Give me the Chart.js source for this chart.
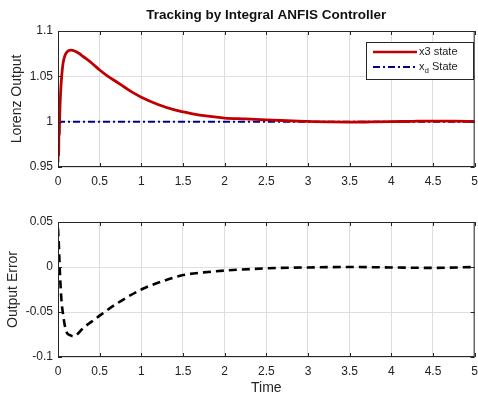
<!DOCTYPE html>
<html><head><meta charset="utf-8">
<script src="https://cdn.jsdelivr.net/npm/chart.js@4.4.1/dist/chart.umd.min.js"></script>
<style>
html,body{margin:0;padding:0;background:#fff;}
#w1{position:absolute;left:0;top:0;width:478px;height:200px;}
#w2{position:absolute;left:0;top:200px;width:478px;height:196px;}
</style></head><body>
<div id="w1"><canvas id="c1" width="478" height="200"></canvas></div>
<div id="w2"><canvas id="c2" width="478" height="196"></canvas></div>
<script>
// ---- data ----
const tState = [0, 0.004, 0.008, 0.012, 0.016, 0.02, 0.03, 0.044, 0.06, 0.08, 0.1, 0.13, 0.16, 0.2, 0.25, 0.3, 0.4, 0.5, 0.6, 0.7, 0.8, 0.9, 1.0, 1.2, 1.4, 1.6, 1.8, 2.0, 2.25, 2.5, 2.75, 3.0, 3.25, 3.5, 3.75, 4.0, 4.25, 4.5, 4.75, 5.0];
const x3State = [0.955, 1.0, 0.962, 0.998, 0.985, 1.005, 1.03, 1.05, 1.064, 1.072, 1.076, 1.0785, 1.079, 1.078, 1.0755, 1.072, 1.065, 1.057, 1.05, 1.044, 1.038, 1.032, 1.027, 1.019, 1.013, 1.009, 1.006, 1.004, 1.003, 1.002, 1.001, 1.0003, 0.9997, 0.9995, 0.9997, 1.0, 1.0004, 1.0007, 1.0005, 1.0002];
const tRef = [0, 5];
const xdState = [1, 1];
const tErr = [0, 0.01, 0.02, 0.04, 0.06, 0.1, 0.15, 0.19, 0.25, 0.3, 0.4, 0.5, 0.7, 1.0, 1.25, 1.5, 1.75, 2.0, 2.5, 3.0, 3.5, 4.0, 4.5, 5.0];
const errVals = [0.043, 0.025, 0.0, -0.035, -0.052, -0.072, -0.076, -0.077, -0.073, -0.068, -0.061, -0.054, -0.041, -0.025, -0.016, -0.009, -0.006, -0.004, -0.0015, -0.0005, 0.0, -0.0005, -0.001, 0.0];
const xTicks = [0, 0.5, 1, 1.5, 2, 2.5, 3, 3.5, 4, 4.5, 5];
const yTicksTop = [0.95, 1, 1.05, 1.1];
const yTicksBot = [-0.1, -0.05, 0, 0.05];

const FONT = "'Liberation Sans', Arial, sans-serif";
const fmt = v => String(+(+v).toFixed(3));
function pts(xs, ys){ return xs.map((x,i)=>({x:x, y:ys[i]})); }

function framePlugin(opts){
  return {
    id:'frame'+opts.id,
    afterDraw(chart){
      const ctx = chart.ctx, a = chart.chartArea;
      const xs = chart.scales.x, ys = chart.scales.y;
      ctx.save();
      ctx.strokeStyle = '#262626'; ctx.lineWidth = 1;
      ctx.strokeRect(a.left+0.5, a.top+0.5, a.right-a.left-1, a.bottom-a.top-1);
      ctx.beginPath();
      xTicks.forEach(v=>{ const p = Math.round(xs.getPixelForValue(v))+0.5;
        ctx.moveTo(p,a.bottom); ctx.lineTo(p,a.bottom-4); ctx.moveTo(p,a.top); ctx.lineTo(p,a.top+4); });
      opts.yTicks.forEach(v=>{ const p = Math.round(ys.getPixelForValue(v))+0.5;
        ctx.moveTo(a.left,p); ctx.lineTo(a.left+4,p); ctx.moveTo(a.right,p); ctx.lineTo(a.right-4,p); });
      ctx.stroke();
      // y title
      ctx.fillStyle = '#262626';
      ctx.font = '14px ' + FONT;
      ctx.textAlign = 'center'; ctx.textBaseline = 'middle';
      ctx.save(); ctx.translate(opts.yTitleX, (a.top+a.bottom)/2); ctx.rotate(-Math.PI/2);
      ctx.fillText(opts.yTitle, 0, 0); ctx.restore();
      if (opts.title){
        ctx.font = 'bold 13.5px ' + FONT;
        ctx.fillStyle = '#111';
        ctx.fillText(opts.title, (a.left+a.right)/2, 15);
      }
      if (opts.xTitle){
        ctx.font = '14px ' + FONT;
        ctx.fillText(opts.xTitle, (a.left+a.right)/2, opts.xTitleY);
      }
      // legend
      const L = opts.legend;
      ctx.fillStyle = '#fff';
      ctx.fillRect(L.x, L.y, L.w, L.h);
      ctx.strokeStyle = '#262626'; ctx.lineWidth = 1; ctx.setLineDash([]);
      ctx.strokeRect(L.x+0.5, L.y+0.5, L.w, L.h);
      L.items.forEach(it=>{
        ctx.save();
        ctx.strokeStyle = it.color; ctx.lineWidth = it.width; ctx.setLineDash(it.dash||[]);
        ctx.beginPath(); ctx.moveTo(it.x0, it.y); ctx.lineTo(it.x1, it.y); ctx.stroke();
        ctx.restore();
        ctx.fillStyle = '#222'; ctx.font = '11px ' + FONT; ctx.textAlign='left'; ctx.textBaseline='middle';
        let tx = it.x1 + 2;
        it.text.forEach(seg=>{
          if (seg.sub){ ctx.font = '8px ' + FONT; ctx.fillText(seg.s, tx, it.y+4); tx += ctx.measureText(seg.s).width; ctx.font='11px '+FONT; }
          else { ctx.fillText(seg.s, tx, it.y); tx += ctx.measureText(seg.s).width; }
        });
      });
      ctx.restore();
    }
  };
}

function scales(yMin, yMax, yT, xH){
  return {
    x:{type:'linear', min:0, max:5,
      afterBuildTicks: s=>{ s.ticks = xTicks.map(v=>({value:v})); },
      afterFit: s=>{ s.height = xH; },
      grid:{color:'#dedede', drawTicks:true, tickLength:7, tickColor:'rgba(0,0,0,0)', lineWidth:1},
      border:{display:false},
      ticks:{padding:0, color:'#222', font:{family:FONT, size:12}, callback:v=>fmt(v), maxRotation:0}},
    y:{type:'linear', min:yMin, max:yMax,
      afterBuildTicks: s=>{ s.ticks = yT.map(v=>({value:v})); },
      afterFit: s=>{ s.width = 58; },
      grid:{color:'#dedede', drawTicks:false, lineWidth:1},
      border:{display:false},
      ticks:{padding:5, color:'#222', font:{family:FONT, size:12}, callback:v=>fmt(v)}}
  };
}

const common = {responsive:false, animation:false, devicePixelRatio:1,
  plugins:{legend:{display:false}, tooltip:{enabled:false}, title:{display:false}},
  elements:{point:{radius:0}, line:{tension:0.3}}};

new Chart(document.getElementById('c1'), {
  type:'line',
  data:{datasets:[
    {label:'x3 state', data:pts(tState, x3State), borderColor:'#c00000', borderWidth:2.8, cubicInterpolationMode:'monotone'},
    {label:'xd State', data:pts(tRef, xdState), borderColor:'#00008b', borderWidth:2, borderDash:[7,3,2,3], tension:0}
  ]},
  options:Object.assign({}, common, {
    layout:{padding:{top:31, right:0, left:0, bottom:0}},
    scales:scales(0.95, 1.1, yTicksTop, 33)
  }),
  plugins:[framePlugin({id:1, yTicks:yTicksTop, yTitle:'Lorenz Output', yTitleX:17,
    title:'Tracking by Integral ANFIS Controller',
    legend:{x:366, y:42, w:107, h:37, items:[
      {x0:373, x1:417, y:52, color:'#c00000', width:2.6, text:[{s:'x3 state'}]},
      {x0:373, x1:417, y:67, color:'#00008b', width:2, dash:[7,3,2,3], text:[{s:'x'},{s:'d',sub:true},{s:' State'}]}
    ]}})]
});

new Chart(document.getElementById('c2'), {
  type:'line',
  data:{datasets:[
    {label:'Error', data:pts(tErr, errVals), borderColor:'#000', borderWidth:2.6, borderDash:[8,5], cubicInterpolationMode:'monotone'}
  ]},
  options:Object.assign({}, common, {
    layout:{padding:{top:22, right:0, left:0, bottom:0}},
    scales:scales(-0.1, 0.05, yTicksBot, 39)
  }),
  plugins:[framePlugin({id:2, yTicks:yTicksBot, yTitle:'Output Error', yTitleX:13,
    xTitle:'Time', xTitleY:188,
    legend:{x:383, y:233, w:79, h:20, items:[
      {x0:388, x1:431, y:243, color:'#000', width:2.6, dash:[8,5], text:[{s:'Error'}]}
    ]}})]
});
</script>
</body></html>
